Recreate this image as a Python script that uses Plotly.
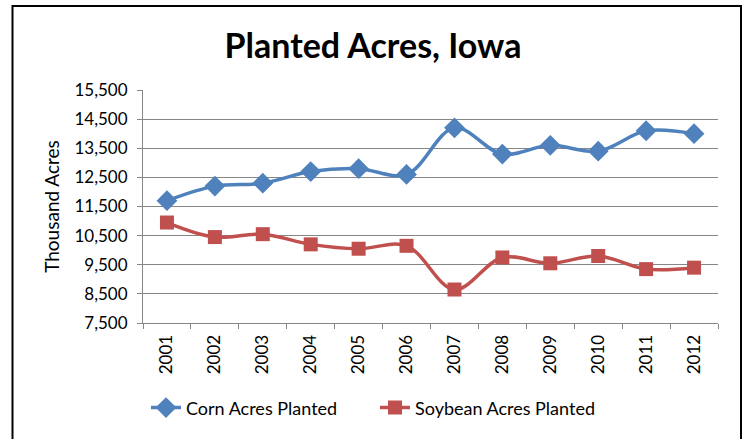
import plotly.graph_objects as go

years = ["2001", "2002", "2003", "2004", "2005", "2006", "2007", "2008", "2009", "2010", "2011", "2012"]
corn = [11700, 12200, 12300, 12700, 12800, 12600, 14200, 13300, 13600, 13400, 14100, 14000]
soy = [10950, 10450, 10550, 10200, 10050, 10150, 8650, 9750, 9550, 9800, 9350, 9400]
ytick_vals = [7500, 8500, 9500, 10500, 11500, 12500, 13500, 14500, 15500]
ytick_text = ["7,500", "8,500", "9,500", "10,500", "11,500", "12,500", "13,500", "14,500", "15,500"]

FONT = "Lato, Open Sans, sans-serif"

fig = go.Figure()
fig.add_trace(go.Scatter(
    x=years, y=corn, name="Corn Acres Planted", mode="lines+markers",
    line=dict(color="#4F81BD", width=3.5, shape="spline", smoothing=1.0),
    marker=dict(symbol="diamond", size=16, color="#4F81BD"),
))
fig.add_trace(go.Scatter(
    x=years, y=soy, name="Soybean Acres Planted", mode="lines+markers",
    line=dict(color="#C0504D", width=3.5, shape="spline", smoothing=1.0),
    marker=dict(symbol="square", size=14, color="#C0504D"),
))

L, R, T, B = 143, 718, 90, 326
W, H = 746, 439
pw, ph = R - L, B - T

def px_x(x):
    return (x - L) / pw

def px_y(y):
    return (B - y) / ph

fig.update_layout(
    width=W, height=H,
    margin=dict(l=L, r=W - R, t=T, b=H - B, pad=0),
    paper_bgcolor="white", plot_bgcolor="white",
    font=dict(family=FONT, size=17, color="#000000"),
    title=dict(text="<b>Planted Acres, Iowa</b>", x=0.5, xref="container", xanchor="center",
               y=1 - 46 / H, yref="container", yanchor="middle",
               font=dict(size=34, family=FONT, color="black")),
    showlegend=True,
    legend=dict(orientation="h", x=px_x(146), xanchor="left", y=px_y(412), yanchor="middle",
                font=dict(size=18), entrywidth=184, entrywidthmode="pixels",
                bgcolor="rgba(0,0,0,0)", borderwidth=0),
    xaxis=dict(
        type="category", range=[-0.5, 11.5], tickangle=-90,
        showline=True, linecolor="#868686", linewidth=1,
        ticks="outside", ticklen=5, tickcolor="#868686", tickson="boundaries",
        showgrid=False, tickfont=dict(size=17), ticklabelstandoff=4,
    ),
    yaxis=dict(
        range=[7500, 15500], tickvals=ytick_vals, ticktext=ytick_text,
        showline=True, linecolor="#868686", linewidth=1,
        ticks="outside", ticklen=5, tickcolor="#868686", ticklabelstandoff=6,
        showgrid=True, gridcolor="#868686", gridwidth=1, zeroline=False,
        title=dict(text="Thousand Acres", font=dict(size=19, family=FONT), standoff=9),
        tickfont=dict(size=17),
    ),
    shapes=[dict(type="rect", xref="paper", yref="paper",
                 x0=px_x(12.5), x1=px_x(741), y0=px_y(460), y1=px_y(5),
                 line=dict(color="black", width=2), layer="above")],
)

fig.write_html("out.html", config={"displayModeBar": False},
               post_script="document.body.style.margin='0';document.body.style.overflow='hidden';")
